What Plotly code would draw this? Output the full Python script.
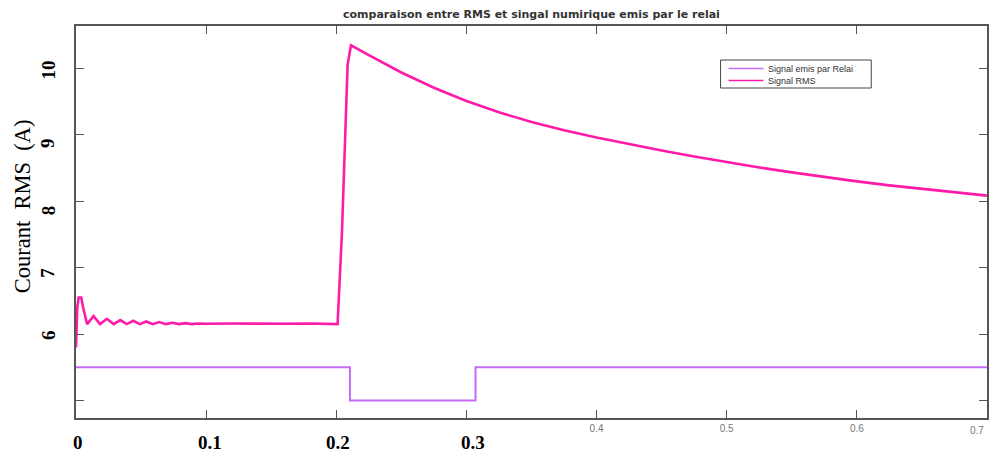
import plotly.graph_objects as go

# ---------------- data ----------------
# relay output signal (step)
relay_t = [0.0, 0.2105, 0.2105, 0.307, 0.307, 0.7]
relay_v = [5.5, 5.5, 5.0, 5.0, 5.5, 5.5]

# RMS current: start-up transient + ripple
rms_t_start = [0.0, 0.001, 0.002, 0.004, 0.0055, 0.0085, 0.0135, 0.0185, 0.0237,
               0.029, 0.034, 0.039, 0.044, 0.049, 0.054, 0.059, 0.064, 0.069,
               0.074, 0.079, 0.084, 0.089, 0.094, 0.10, 0.12, 0.14, 0.16, 0.18, 0.201]
rms_v_start = [5.80, 6.40, 6.55, 6.55, 6.40, 6.15, 6.27, 6.15, 6.23,
               6.15, 6.21, 6.15, 6.20, 6.15, 6.19, 6.15, 6.18, 6.15,
               6.17, 6.15, 6.165, 6.15, 6.16, 6.155, 6.16, 6.155, 6.155, 6.16, 6.15]
# rise after the fault and slow decay
rms_t_fault = [0.2044, 0.2067, 0.2087, 0.2113, 0.225, 0.25, 0.275,
               0.30, 0.325, 0.35, 0.375, 0.40, 0.425, 0.45, 0.475, 0.50, 0.525,
               0.55, 0.575, 0.60, 0.625, 0.65, 0.675, 0.70]
rms_v_fault = [7.55, 9.05, 10.06, 10.35, 10.20, 9.94, 9.71,
               9.51, 9.34, 9.195, 9.07, 8.96, 8.86, 8.765, 8.675, 8.59, 8.51,
               8.435, 8.365, 8.30, 8.24, 8.185, 8.135, 8.085]

x_ticks = [0, 0.1, 0.2, 0.3, 0.4, 0.5, 0.6, 0.7]
x_small_labels = ["", "", "", "", "0.4", "0.5", "0.6", ""]
x_bold_ticks = [0, 0.1, 0.2, 0.3]
x_bold_labels = ["0", "0.1", "0.2", "0.3"]
y_ticks = [5, 6, 7, 8, 9, 10]
y_bold_ticks = [6, 7, 8, 9, 10]
y_bold_labels = ["6", "7", "8", "9", "10"]

title = "comparaison entre RMS et singal numirique emis par le relai"
y_title = "Courant  RMS  (A)"
legend_names = ["Signal emis par Relai", "Signal RMS"]
colors = ["#C56CF7", "#FF1AA8"]

# ---------------- layout geometry (pixels) ----------------
W, H = 991, 462
ML, MR, MT, MB = 76, 2, 26, 44
PW, PH = W - ML - MR, H - MT - MB


def px_x(px):
    return (px - ML) / PW


def px_y(py):
    return (H - MB - py) / PH


# ---------------- figure ----------------
fig = go.Figure()
fig.add_trace(go.Scatter(x=relay_t, y=relay_v, mode="lines", name=legend_names[0],
                         line=dict(color=colors[0], width=2), showlegend=False))
fig.add_trace(go.Scatter(x=rms_t_start + rms_t_fault, y=rms_v_start + rms_v_fault,
                         mode="lines", name=legend_names[1], showlegend=False,
                         line=dict(color=colors[1], width=2.6)))

axcol = "#555555"
fig.update_xaxes(range=[0, 0.7], showline=True, linecolor=axcol, linewidth=1.5,
                 mirror="ticks", ticks="inside", ticklen=8, tickcolor=axcol, tickwidth=1.2,
                 tickvals=x_ticks, ticktext=x_small_labels, showgrid=False, zeroline=False,
                 tickfont=dict(family="Liberation Sans", size=10, color="#777777"))
fig.update_yaxes(range=[4.736, 10.64], showline=True, linecolor=axcol, linewidth=1.5,
                 mirror="ticks", ticks="inside", ticklen=8, tickcolor=axcol, tickwidth=1.2,
                 tickvals=y_ticks, showticklabels=False, showgrid=False, zeroline=False)

annots = []
x_label_shift = [2, 4, 2, 7]
for xv, lab, sh in zip(x_bold_ticks, x_bold_labels, x_label_shift):
    annots.append(dict(x=xv, y=0, xref="x", yref="paper", text="<b>%s</b>" % lab,
                       showarrow=False, yanchor="middle", yshift=-24, xshift=sh,
                       font=dict(family="Liberation Serif", size=19, color="black")))
y_label_shift = [-1, -5, -9, -8, -2]
for yv, lab, sh in zip(y_bold_ticks, y_bold_labels, y_label_shift):
    annots.append(dict(x=0, y=yv, xref="paper", yref="y", text="<b>%s</b>" % lab,
                       showarrow=False, xanchor="center", yanchor="middle", xshift=-28,
                       yshift=sh, textangle=-90,
                       font=dict(family="Liberation Serif", size=19, color="black")))
# last small tick label, kept inside the page edge
annots.append(dict(x=0.7, y=0, xref="x", yref="paper", text="0.7", showarrow=False,
                   xanchor="right", yanchor="middle", yshift=-12, xshift=-1,
                   font=dict(family="Liberation Sans", size=10, color="#777777")))
annots.append(dict(x=0, y=0.54, xref="paper", yref="paper", text=y_title, showarrow=False,
                   xanchor="center", yanchor="middle", xshift=-54, textangle=-90,
                   font=dict(family="Liberation Serif", size=22.5, color="black")))
annots.append(dict(x=0.5, y=1, xref="paper", yref="paper", text="<b>%s</b>" % title,
                   showarrow=False, xanchor="center", yanchor="bottom", yshift=3,
                   font=dict(family="DejaVu Sans", size=11, color="#333333")))

# legend box drawn by hand (compact, like the original)
shapes = [dict(type="rect", xref="paper", yref="paper",
               x0=px_x(722), x1=px_x(873), y0=px_y(88), y1=px_y(60),
               line=dict(color="#444444", width=1), fillcolor="white", layer="above")]
leg_rows = [68.5, 80.5]
for name, col, row in zip(legend_names, colors, leg_rows):
    shapes.append(dict(type="line", xref="paper", yref="paper",
                       x0=px_x(730), x1=px_x(765), y0=px_y(row), y1=px_y(row),
                       line=dict(color=col, width=1.6), layer="above"))
    annots.append(dict(x=px_x(768), y=px_y(row), xref="paper", yref="paper", text=name,
                       showarrow=False, xanchor="left", yanchor="middle",
                       font=dict(family="Liberation Sans", size=9, color="#333333")))

fig.update_layout(
    width=W, height=H,
    margin=dict(l=ML, r=MR, t=MT, b=MB),
    paper_bgcolor="white", plot_bgcolor="white",
    annotations=annots, shapes=shapes, showlegend=False,
)

fig.write_html("out.html")
